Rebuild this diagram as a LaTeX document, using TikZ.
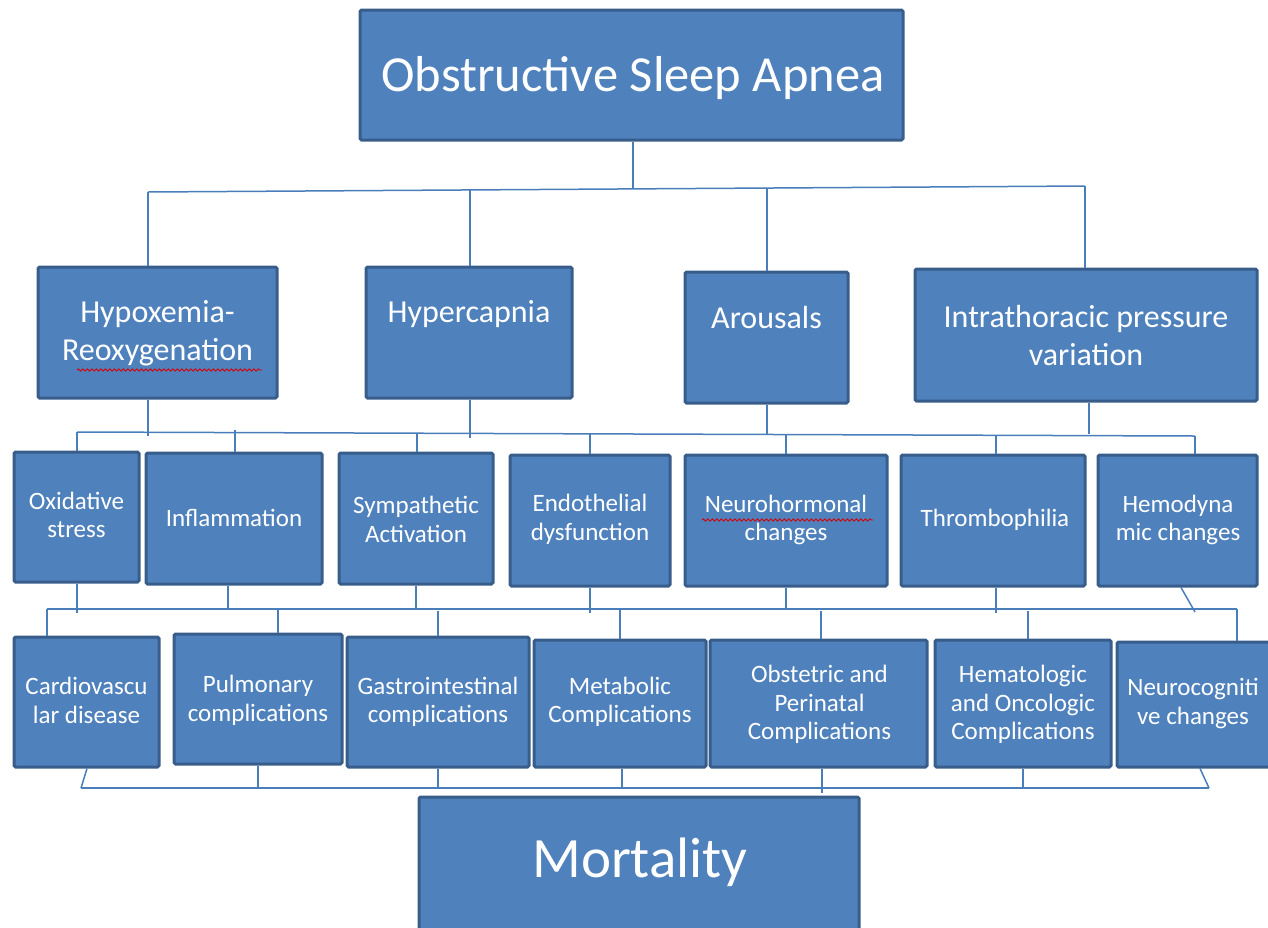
\documentclass[tikz,border=0pt]{standalone}
\usepackage{fontspec}
\setmainfont{Carlito}
\usetikzlibrary{fit,decorations.pathmorphing}
\definecolor{boxfill}{HTML}{4F81BD}
\definecolor{boxedge}{HTML}{385D8A}
\definecolor{connc}{HTML}{4A7EBB}
\tikzset{
 box/.style={draw=boxedge, fill=boxfill, line width=3pt, inner sep=0pt, rectangle, rounded corners=1.5pt},
 conn/.style={draw=connc, line width=1.5pt},
 lbl/.style={text=white, align=center, inner sep=0pt, font=\fontsize{25}{28.5}\selectfont},
 lblA/.style={lbl, font=\fontsize{32}{38}\selectfont},
 spell/.style={draw=red!85!black, line width=0.9pt, decorate, decoration={snake, segment length=4.5pt, amplitude=1.1pt}}
}
\begin{document}
\begin{tikzpicture}[x=1pt,y=-1pt]
\useasboundingbox (0,0) rectangle (1268,927);
\clip (0,0) rectangle (1268,927);
% ---------- boxes ----------
\node[box, fit={(360,10) (903,140)}] (osa) {};
\node[box, fit={(38,267) (277,398)}] (hyp) {};
\node[box, fit={(366,267) (572,398)}] (hcap) {};
\node[box, fit={(685,272) (848,403)}] (aro) {};
\node[box, fit={(915,269) (1257,401)}] (itp) {};
\node[box, fit={(14,452) (139,582)}] (ox) {};
\node[box, fit={(146,453) (322,584)}] (inf) {};
\node[box, fit={(339,453) (493,584)}] (sym) {};
\node[box, fit={(510,455) (670,586)}] (endo) {};
\node[box, fit={(685,455) (887,586)}] (neuro) {};
\node[box, fit={(901,455) (1085,586)}] (thr) {};
\node[box, fit={(1098,455) (1257,586)}] (hemo) {};
\node[box, fit={(14,637) (159,767)}] (cv) {};
\node[box, fit={(174,634) (342,764)}] (pulm) {};
\node[box, fit={(347,637) (529,767)}] (gi) {};
\node[box, fit={(534,640) (706,767)}] (met) {};
\node[box, fit={(710,640) (927,767)}] (obs) {};
\node[box, fit={(935,640) (1111,767)}] (hem) {};
\node[box, fit={(1117,642) (1275,767)}] (nc) {};
\node[box, fit={(419,797) (859,935)}] (mort) {};
% ---------- texts ----------
\node[lbl, font=\fontsize{50.5}{58}\selectfont] (osaT) at (633,78) {Obstructive Sleep Apnea};
\node[lblA] (hypT) at (157.5,333) {Hypoxemia-\\Reoxygenation};
\node[lblA] (hcapT) at (469,314) {Hypercapnia};
\node[lblA] (aroT) at (766.5,318) {Arousals};
\node[lblA] (itpT) at (1086,335) {Intrathoracic pressure\\variation};
\node[lbl] (oxT) at (76.5,515) {Oxidative\\stress};
\node[lbl] (infT) at (234,518) {Inflammation};
\node[lbl] (symT) at (416,519.5) {Sympathetic\\Activation};
\node[lbl] (endoT) at (590,519.5) {Endothelial\\dysfunction};
\node[lbl] (neuroT) at (786,520) {Neurohormonal\\changes};
\node[lbl] (thrT) at (995,520) {Thrombophilia};
\node[lbl] (hemoT) at (1178,520) {Hemodyna\\mic changes};
\node[lbl] (cvT) at (86.5,700.5) {Cardiovascu\\lar disease};
\node[lbl] (pulmT) at (258,700.5) {Pulmonary\\complications};
\node[lbl] (giT) at (438,702) {Gastrointestinal\\complications};
\node[lbl] (metT) at (620,702) {Metabolic\\Complications};
\node[lbl] (obsT) at (819.5,704.5) {Obstetric and\\Perinatal\\Complications};
\node[lbl] (hemT) at (1023,704.5) {Hematologic\\and Oncologic\\Complications};
\node[lbl] (ncT) at (1193,703.5) {Neurocogniti\\ve changes};
\node[lbl, font=\fontsize{57}{64}\selectfont] (mortT) at (640,862) {Mortality};
% spell-check underlines
\draw[spell] (77,370) -- (262,370);
\draw[spell] (702,520) -- (873,520);
% ---------- bus 1 ----------
\coordinate (b1L) at (148,192);
\coordinate (b1R) at (1085,186);
\draw[conn] (osa.south -| 633,0) -- (633,189);
\draw[conn] (b1L) -- (b1R);
\draw[conn] (b1L) -- (hyp.north -| 148,0);
\draw[conn] (470,190) -- (hcap.north -| 470,0);
\draw[conn] (767,188) -- (aro.north -| 767,0);
\draw[conn] (b1R) -- (itp.north -| 1085,0);
% ---------- bus 2 ----------
\coordinate (b2L) at (77,432);
\coordinate (b2R) at (1195,436);
\draw[conn] (b2L) -- (b2R);
\draw[conn] (hyp.south -| 148,0) -- (148,436);
\draw[conn] (hcap.south -| 470,0) -- (470,438);
\draw[conn] (aro.south -| 767,0) -- (767,434);
\draw[conn] (itp.south -| 1089,0) -- (1089,434);
\draw[conn] (b2L) -- (ox.north -| 77,0);
\draw[conn] (235,430) -- (inf.north -| 235,0);
\draw[conn] (417,433) -- (sym.north -| 417,0);
\draw[conn] (590,434) -- (endo.north -| 590,0);
\draw[conn] (786,434) -- (neuro.north -| 786,0);
\draw[conn] (996,435) -- (thr.north -| 996,0);
\draw[conn] (b2R) -- (hemo.north -| 1195,0);
% ---------- bus 3 ----------
\coordinate (b3L) at (47,609);
\coordinate (b3R) at (1237,609);
\draw[conn] (b3L) -- (b3R);
\draw[conn] (ox.south -| 77,0) -- (77,613);
\draw[conn] (inf.south -| 228,0) -- (228,609);
\draw[conn] (sym.south -| 416,0) -- (416,609);
\draw[conn] (endo.south -| 590,0) -- (590,613);
\draw[conn] (neuro.south -| 786,0) -- (786,609);
\draw[conn] (thr.south -| 996,0) -- (996,613);
\draw[conn] (hemo.south -| 1181,0) -- (1195,612);
\draw[conn] (b3L) -- (cv.north -| 47,0);
\draw[conn] (278,609) -- (pulm.north -| 278,0);
\draw[conn] (438,611) -- (gi.north -| 438,0);
\draw[conn] (620,609) -- (met.north -| 620,0);
\draw[conn] (821,611) -- (obs.north -| 821,0);
\draw[conn] (1028,611) -- (hem.north -| 1028,0);
\draw[conn] (b3R) -- (nc.north -| 1237,0);
% ---------- bus 4 ----------
\coordinate (b4L) at (81,788);
\coordinate (b4R) at (1209,788);
\draw[conn] (b4L) -- (b4R);
\draw[conn] (cv.south -| 87,0) -- (b4L);
\draw[conn] (pulm.south -| 258,0) -- (258,788);
\draw[conn] (gi.south -| 438,0) -- (438,788);
\draw[conn] (met.south -| 622,0) -- (622,788);
\draw[conn] (obs.south -| 822,0) -- (822,793);
\draw[conn] (hem.south -| 1023,0) -- (1023,788);
\draw[conn] (nc.south -| 1200,0) -- (b4R);
\end{tikzpicture}
\end{document}
